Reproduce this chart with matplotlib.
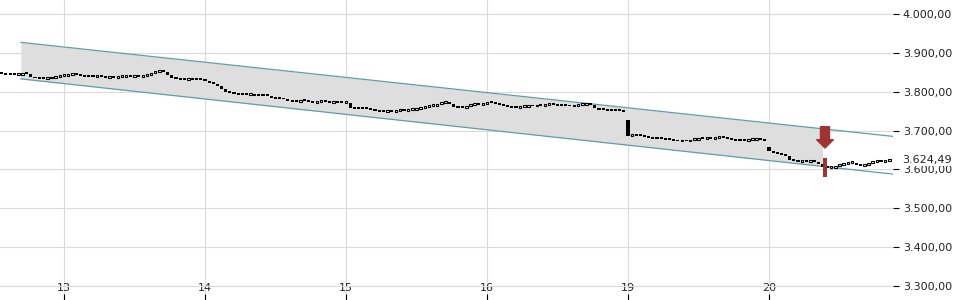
import numpy as np
import matplotlib
matplotlib.use("Agg")
import matplotlib.pyplot as plt

# 15-min closes, one list per trading day (day 12 only partly visible)
day12 = [3845, 3843, 3843, 3842, 3844, 3846, 3845, 3839, 3834, 3833, 3833, 3834, 3836, 3839, 3840]
day13 = [3841, 3843, 3844, 3842, 3840, 3838, 3837, 3837, 3838, 3837, 3836, 3837, 3836, 3837, 3838, 3839, 3839,
         3840, 3839, 3840, 3844, 3848, 3851, 3855, 3852, 3843, 3834, 3832, 3831, 3830, 3831, 3830, 3830, 3829]
day14 = [3827, 3822, 3819, 3814, 3807, 3800, 3797, 3794, 3792, 3792, 3791, 3792, 3790, 3789, 3788, 3788, 3785,
         3782, 3781, 3780, 3776, 3774, 3773, 3777, 3775, 3773, 3772, 3774, 3775, 3773, 3771, 3772, 3771, 3770]
day15 = [3771, 3759, 3756, 3755, 3755, 3755, 3753, 3750, 3749, 3749, 3750, 3749, 3750, 3751, 3751, 3752, 3754,
         3756, 3758, 3760, 3763, 3764, 3768, 3770, 3772, 3769, 3761, 3759, 3759, 3763, 3765, 3767, 3766, 3768]
day16 = [3774, 3771, 3768, 3767, 3764, 3761, 3759, 3758, 3760, 3761, 3762, 3762, 3763, 3763, 3765, 3766, 3765,
         3764, 3763, 3763, 3762, 3764, 3766, 3767, 3768, 3765, 3757, 3754, 3752, 3751, 3751, 3750, 3750, 3749]
day19 = [3685, 3686, 3685, 3685, 3684, 3681, 3679, 3678, 3678, 3677, 3675, 3673, 3672, 3673, 3672, 3675, 3677,
         3678, 3678, 3679, 3678, 3680, 3681, 3680, 3678, 3675, 3674, 3674, 3673, 3675, 3677, 3678, 3676, 3674]
day20 = [3647, 3641, 3640, 3636, 3634, 3625, 3621, 3620, 3621, 3620, 3621, 3618, 3613, 3607, 3603, 3604, 3608,
         3612, 3613, 3616, 3617, 3612, 3610, 3611, 3616, 3620, 3621, 3620, 3622, 3624.49]
# opening prices of the gap candles
gap_open = {136: 3727, 170: 3659}

day_labels = ["13", "14", "15", "16", "19", "20"]
day_start = [0, 34, 68, 102, 136, 170]

# trend channel (start/end index, upper and lower value)
ch_x = [-10.4, 199.9]
ch_upper = [3927, 3685]
ch_lower = [3833, 3588]
signal_idx = 183.5
signal_bar = [3581, 3629]
arrow_top, arrow_tip = 3710, 3655
last_price = 3624.49

y_ticks = [3300, 3400, 3500, 3600, 3700, 3800, 3900, 4000]

closes = np.array(day12 + day13 + day14 + day15 + day16 + day19 + day20, dtype=float)
idx = np.arange(-len(day12), -len(day12) + len(closes))
opens = np.r_[closes[0], closes[:-1]]
for k, v in gap_open.items():
    opens[idx == k] = v


def fmt(v):
    s = f"{v:,.2f}"
    return s.replace(",", "X").replace(".", ",").replace("X", ".")


fig = plt.figure(figsize=(9.6, 3.0), dpi=100)
ax = fig.add_axes([0, 0, 893 / 960, 1])

ax.set_xlim(-15.43, 199.9)
ax.set_ylim(3264.0, 4036.0)

# channel
cx = np.linspace(ch_x[0], signal_idx - 0.6, 50)
up = np.interp(cx, ch_x, ch_upper)
lo = np.interp(cx, ch_x, ch_lower)
ax.fill_between(cx, lo, up, color="#dedede", lw=0, zorder=1)
teal = "#5e9fa6"
ax.plot(ch_x, ch_upper, color=teal, lw=0.9, zorder=2)
ax.plot(ch_x, ch_lower, color=teal, lw=0.9, zorder=2)

# candles
min_h = 5
body_lo = np.minimum(opens, closes)
body_h = np.maximum(np.abs(closes - opens), min_h)
upc = closes > opens
ax.bar(idx[~upc], body_h[~upc], bottom=body_lo[~upc], width=0.75, color="black", lw=0, zorder=3)
ax.bar(idx[upc], body_h[upc], bottom=body_lo[upc], width=0.6, facecolor="white",
       edgecolor="black", lw=0.8, zorder=3)

# signal
red = "#9e3535"
ax.bar([signal_idx], [signal_bar[1] - signal_bar[0]], bottom=signal_bar[0], width=0.95,
       color=red, lw=0, zorder=4)
ax.annotate("", xy=(signal_idx, arrow_tip), xytext=(signal_idx, arrow_top),
            arrowprops=dict(arrowstyle="simple,head_width=1.2,head_length=0.6,tail_width=0.65",
                            color=red, shrinkA=0, shrinkB=0), zorder=5)

# axes styling
for s in ax.spines.values():
    s.set_visible(False)
ax.set_xticks(day_start)
ax.set_xticklabels(day_labels)
ax.set_yticks(y_ticks)
ax.set_yticklabels([fmt(v) for v in y_ticks])
ax.yaxis.tick_right()
ax.grid(True, color="#dadada", lw=0.8, zorder=0)
ax.set_axisbelow(True)
ax.tick_params(axis="y", direction="out", length=4, width=0.8, pad=3, labelsize=8,
               labelcolor="#222222", color="black")
ax.tick_params(axis="x", direction="in", length=4, width=0.8, pad=-12, labelsize=8,
               labelcolor="#222222", color="black")

ax.annotate(fmt(last_price), xy=(1.0, last_price), xycoords=ax.get_yaxis_transform(),
            xytext=(6.5, 0), textcoords="offset points",
            ha="left", va="center", fontsize=8, color="#222222",
            bbox=dict(facecolor="white", edgecolor="none", pad=0.5), zorder=6, annotation_clip=False)

fig.savefig("out.png", dpi=100)
